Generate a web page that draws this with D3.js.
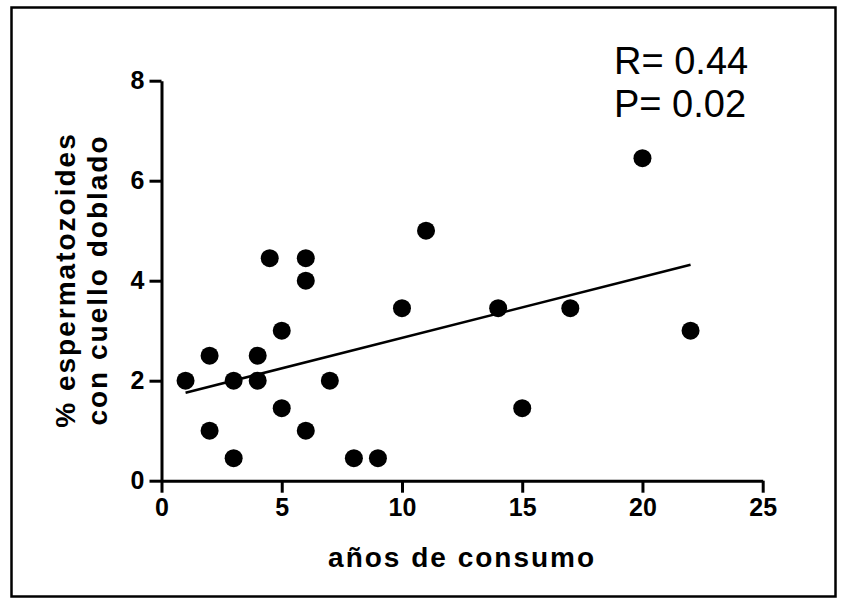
<!DOCTYPE html>
<html>
<head>
<meta charset="utf-8">
<script src="https://cdn.jsdelivr.net/npm/d3@7"></script>
<style>
  body { margin: 0; background: #fff; }
  svg text { font-family: 'Liberation Sans', Arial, sans-serif; fill: #000; }
</style>
</head>
<body>
<div id="app"></div>
<script>
// years of consumption vs % bent-neck sperm
const xVals = [1, 2, 2, 3, 3, 4, 4, 4.5, 5, 5, 6, 6, 6, 7, 8, 9, 10, 11, 14, 15, 17, 20, 22];
const yVals = [2, 2.5, 1, 2, 0.45, 2.5, 2, 4.45, 3, 1.45, 4.45, 4, 1, 2, 0.45, 0.45, 3.45, 5, 3.45, 1.45, 3.45, 6.45, 3];
// regression line end points
const fitX = [1, 22];
const fitY = [1.76, 4.32];
const xTicks = [0, 5, 10, 15, 20, 25];
const yTicks = [0, 2, 4, 6, 8];
const statLines = ['R= 0.44', 'P= 0.02'];

const width = 843;
const height = 604;

const margin = {
  top: 80.7,
  left: 161.5,
};
const chartWidth = 601.2;
const chartHeight = 400;

const svg = d3.select('#app').append('svg')
  .attr('width', width)
  .attr('height', height);

// frame
svg.append('rect')
  .attr('x', 11.5)
  .attr('y', 7.5)
  .attr('width', 824)
  .attr('height', 589)
  .attr('fill', 'none')
  .attr('stroke', '#000')
  .attr('stroke-width', 2.5);

const chartGroup = svg.append('g')
  .attr('transform', `translate(${margin.left}, ${margin.top})`);

const xScale = d3.scaleLinear().domain([0, 25]).range([0, chartWidth]);
const yScale = d3.scaleLinear().domain([0, 8]).range([chartHeight, 0]);

const xAxis = d3.axisBottom(xScale).tickValues(xTicks).tickSize(12).tickSizeOuter(0).tickPadding(6);
const yAxis = d3.axisLeft(yScale).tickValues(yTicks).tickSize(12).tickSizeOuter(0).tickPadding(5);

const xAxisGroup = chartGroup.append('g')
  .attr('transform', `translate(0, ${chartHeight})`)
  .call(xAxis);
const yAxisGroup = chartGroup.append('g').call(yAxis);

[xAxisGroup, yAxisGroup].forEach(g => {
  g.attr('font-size', null).attr('font-family', null);
  g.selectAll('path, line').attr('stroke', '#000').attr('stroke-width', 3);
  g.selectAll('text')
    .attr('fill', '#000')
    .style('font-size', '25px')
    .style('font-weight', 'bold');
});

// fit line
const lineFunc = d3.line()
  .x(d => xScale(d[0]))
  .y(d => yScale(d[1]));

chartGroup.append('path')
  .attr('d', lineFunc(d3.zip(fitX, fitY)))
  .attr('fill', 'none')
  .attr('stroke', '#000')
  .attr('stroke-width', 2.5);

// points
chartGroup.selectAll('circle')
  .data(d3.zip(xVals, yVals))
  .enter()
  .append('circle')
  .attr('cx', d => xScale(d[0]))
  .attr('cy', d => yScale(d[1]))
  .attr('r', 9)
  .attr('fill', '#000');

// axis titles
svg.append('text')
  .attr('x', margin.left + xScale(12.5))
  .attr('y', 567)
  .attr('text-anchor', 'middle')
  .style('font-size', '28px')
  .style('font-weight', 'bold')
  .style('letter-spacing', '2px')
  .text('años de consumo');

const yTitle = svg.append('text')
  .attr('transform', 'translate(75, 280) rotate(-90)')
  .attr('text-anchor', 'middle')
  .style('font-size', '28px')
  .style('font-weight', 'bold')
  .style('letter-spacing', '2px');

yTitle.selectAll('tspan')
  .data(['% espermatozoides', 'con cuello doblado'])
  .enter()
  .append('tspan')
  .attr('x', 0)
  .attr('dy', (d, i) => (i === 0 ? 0 : 32))
  .text(d => d);

// stats annotation
svg.append('g')
  .selectAll('text')
  .data(statLines)
  .enter()
  .append('text')
  .attr('x', 614)
  .attr('y', (d, i) => 74 + i * 43)
  .style('font-size', '38px')
  .text(d => d);
</script>
</body>
</html>
